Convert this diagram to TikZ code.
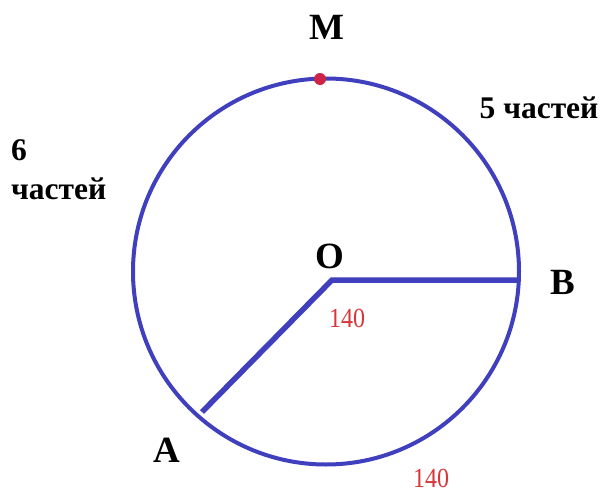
\documentclass[tikz,border=0pt]{standalone}
\usepackage{fontspec}
\setmainfont{Liberation Serif}
\begin{document}
\begin{tikzpicture}[x=1pt,y=-1pt,
  lbl/.style={font=\fontsize{37}{37}\selectfont\bfseries, inner sep=0pt},
  parts/.style={font=\fontsize{31.5}{32}\selectfont\bfseries, inner sep=0pt},
  num/.style={font=\fontsize{24}{24}\selectfont, text=numred, inner sep=0pt, yscale=1.15},
  arcline/.style={draw=circblue, line width=4pt},
  radius line/.style={draw=circblue, line width=5.5pt, line join=miter}]
\definecolor{circblue}{RGB}{64,64,190}
\definecolor{numred}{RGB}{215,55,60}
\definecolor{dotred}{RGB}{205,35,70}
\useasboundingbox[fill=white] (0,0) rectangle (603,493);
\coordinate (C) at (326,271.5);
\coordinate (O) at (332,280);
\coordinate (B) at (518,280);
\coordinate (A) at (202,412);
\coordinate (M) at (320,79);
\draw[arcline] (C) circle[radius=193];
\draw[radius line] (A) -- (O) -- (B);
\fill[dotred] (M) circle[radius=6];
\node[lbl] (lM) at (327,27) {M};
\node[lbl] (lO) at (330,256) {O};
\node[lbl] (lB) at (563,282) {B};
\node[lbl] (lA) at (167,450) {A};
\node[parts] (l5) at (539,108) {5 частей};
\node[parts, anchor=west] (l6) at (11,150) {6};
\node[parts, anchor=west] (l6b) at (11,189) {частей};
\node[num] (n1) at (347,318) {140};
\node[num] (n2) at (431,478) {140};
\end{tikzpicture}
\end{document}
